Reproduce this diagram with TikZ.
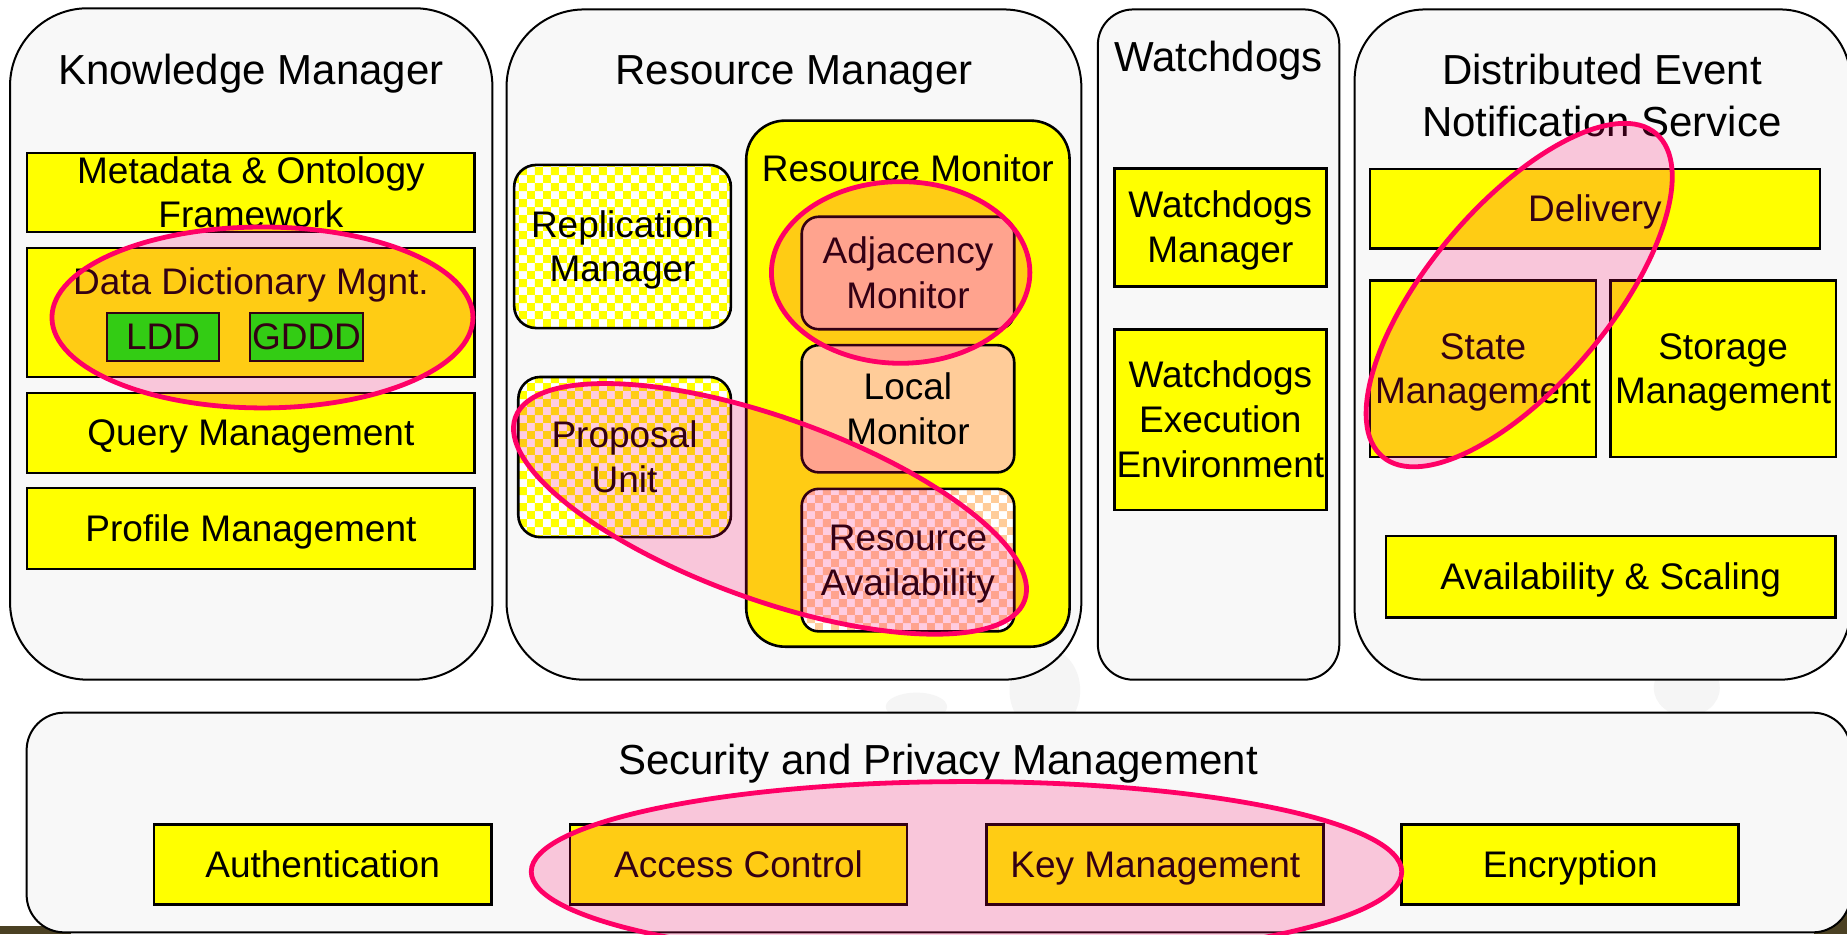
\documentclass[tikz,border=0pt]{standalone}
\usepackage{fontspec}
\setmainfont{Liberation Sans}
\usetikzlibrary{patterns}

\definecolor{panelgray}{HTML}{F8F8F8}
\definecolor{boxyellow}{HTML}{FFFF00}
\definecolor{peach}{HTML}{FFCC99}
\definecolor{hot}{HTML}{FF0066}
\definecolor{dddgreen}{HTML}{00FF00}
\definecolor{darkolive}{HTML}{4B4123}
\definecolor{ghost}{HTML}{F5F5F5}

% checkerboard with 4pt squares
\pgfdeclarepatternformonly{checks}{\pgfpointorigin}{\pgfqpoint{8pt}{8pt}}{\pgfqpoint{8pt}{8pt}}{%
  \pgfpathrectangle{\pgfpointorigin}{\pgfqpoint{4pt}{4pt}}%
  \pgfpathrectangle{\pgfqpoint{4pt}{4pt}}{\pgfqpoint{4pt}{4pt}}%
  \pgfusepath{fill}%
}

% centred lines whose baseline is the first line's baseline
\newcommand\stack[1]{\begin{tabular}[t]{@{}c@{}}#1\end{tabular}}

\begin{document}
\begin{tikzpicture}[x=0.589pt, y=-0.589pt,
  panel/.style={draw=black, line width=1pt, fill=panelgray},
  ybox/.style={draw=black, line width=1.3pt, fill=boxyellow},
  gbox/.style={draw=black, line width=1.3pt, fill=dddgreen},
  pbox/.style={draw=black, line width=1.3pt, fill=peach},
  rmon/.style={draw=black, line width=1.3pt, fill=boxyellow},
  checkbox/.style={draw=black, line width=1.3pt, preaction={fill=white}, pattern=checks, pattern color=#1},
  lbl/.style={anchor=base, inner sep=0pt, font=\fontsize{18.5}{22.4}\selectfont},
  ttl/.style={anchor=base, inner sep=0pt, font=\fontsize{21}{25.9}\selectfont},
  hilite/.style={draw=hot, line width=2.4pt, fill=hot, fill opacity=0.2},
]
\useasboundingbox (0,0) rectangle (1568,793);
\fill[white] (0,0) rectangle (1568,793);

% faint ghost shapes of the backdrop
\fill[ghost] (887,586) ellipse [x radius=30, y radius=36];
\fill[ghost] (1432,584) ellipse [x radius=28, y radius=24];
\fill[ghost] (778,600) ellipse [x radius=26, y radius=12];

% dark backdrop edges peeking out at the bottom corners
\fill[darkolive] (0,786) rectangle (60,793);
\fill[darkolive] (1540,770) rectangle (1568,793);

% ---------- panels ----------
\draw[panel, rounded corners=38.9pt] (8.5,7) rectangle (418,577);
\draw[panel, rounded corners=38.9pt] (430,8) rectangle (918,577);
\draw[panel, rounded corners=17.7pt] (932,8) rectangle (1137,577);
\draw[panel, rounded corners=35.3pt] (1150,8) rectangle (1571,577);
\draw[panel, rounded corners=18.8pt] (22.6,605) rectangle (1571,791.5);

% ---------- titles ----------
\node[ttl] (kmT) at (213,72) {Knowledge Manager};
\node[ttl] (rmT) at (674,72) {Resource Manager};
\node[ttl] (wdT) at (1034.5,60.6) {Watchdogs};
\node[ttl] (dnT) at (1360,72) {\stack{Distributed Event\\Notification Service}};
\node[ttl] (spT) at (796.3,657.9) {Security and Privacy Management};

% ---------- Knowledge Manager ----------
\draw[ybox] (23,130) rectangle (403,197);
\node[lbl] (meta) at (213,155.4) {\stack{Metadata \& Ontology\\Framework}};
\draw[ybox] (23,210.5) rectangle (403,320);
\node[lbl] (ddm) at (213,250.4) {Data Dictionary Mgnt.};
\draw[gbox] (90.8,265.7) rectangle (186,306.5);
\node[lbl] (ldd) at (138.4,297) {LDD};
\draw[gbox] (212.2,265.7) rectangle (308.1,306.5);
\node[lbl] (gddd) at (260.2,297) {GDDD};
\draw[ybox] (23,333.6) rectangle (403,401.5);
\node[lbl] (qm) at (213,378.4) {Query Management};
\draw[ybox] (23,414.3) rectangle (403,483);
\node[lbl] (pm) at (213,459.6) {Profile Management};

% ---------- Resource Manager ----------
\draw[checkbox=boxyellow, rounded corners=11pt] (436.5,140) rectangle (620.5,278.5);
\node[lbl] (rep) at (528.5,201.2) {\stack{Replication\\Manager}};
\draw[checkbox=boxyellow, rounded corners=11pt] (440,320) rectangle (620.5,456);
\node[lbl] (prop) at (530.2,379.9) {\stack{Proposal\\Unit}};
\draw[rmon, rounded corners=19.4pt] (633.5,102.4) rectangle (908,549);
\node[lbl] (rmonT) at (770.7,154) {Resource Monitor};
\draw[pbox, rounded corners=8.5pt] (680.6,184) rectangle (861,279.5);
\node[lbl] (adj) at (770.8,223.6) {\stack{Adjacency\\Monitor}};
\draw[pbox, rounded corners=8.5pt] (680.6,293) rectangle (861,401);
\node[lbl] (loc) at (770.8,338.9) {\stack{Local\\Monitor}};
\draw[checkbox=peach, rounded corners=8.5pt] (680.6,415) rectangle (861,536);
\node[lbl] (ravail) at (770.8,467.4) {\stack{Resource\\Availability}};

% ---------- Watchdogs ----------
\draw[ybox] (946,143) rectangle (1126,243);
\node[lbl] (wdm) at (1036,184.9) {\stack{Watchdogs\\Manager}};
\draw[ybox] (946,279.5) rectangle (1126,433);
\node[lbl] (wee) at (1036,329.2) {\stack{Watchdogs\\Execution\\Environment}};

% ---------- Distributed Event Notification Service ----------
\draw[ybox] (1163,143.5) rectangle (1545,211);
\node[lbl] (del) at (1354,188.2) {Delivery};
\draw[ybox] (1163,238) rectangle (1355,388);
\node[lbl] (state) at (1259,304.9) {\stack{State\\Management}};
\draw[ybox] (1367,238) rectangle (1558.6,388);
\node[lbl] (stor) at (1462.8,304.9) {\stack{Storage\\Management}};
\draw[ybox] (1176.5,455) rectangle (1558,524);
\node[lbl] (avs) at (1367.3,500.4) {Availability \& Scaling};

% ---------- Security and Privacy Management ----------
\draw[ybox] (130.7,700) rectangle (417,768);
\node[lbl] (auth) at (273.9,744.9) {Authentication};
\draw[ybox] (484,700) rectangle (770,768);
\node[lbl] (acc) at (627,744.9) {Access Control};
\draw[ybox] (837.7,700) rectangle (1123.8,768);
\node[lbl] (key) at (980.8,744.9) {Key Management};
\draw[ybox] (1190,700) rectangle (1476,768);
\node[lbl] (enc) at (1333,744.9) {Encryption};

% ---------- highlight ellipses ----------
\draw[hilite] (222.8,269.5) ellipse [x radius=178.7, y radius=76.8];
\draw[hilite] (764.6,231.3) ellipse [x radius=109.7, y radius=77.1];
\begin{scope}[shift={(653.7,432)}, rotate=-19.76]
  \draw[hilite] (0,0) ellipse [x radius=229.7, y radius=77.3];
\end{scope}
\begin{scope}[shift={(1289.7,250.5)}, rotate=49.75]
  \draw[hilite] (0,0) ellipse [x radius=179.7, y radius=76.4];
\end{scope}
\draw[hilite] (820.5,740) ellipse [x radius=369.5, y radius=76.5];
\end{tikzpicture}
\end{document}
